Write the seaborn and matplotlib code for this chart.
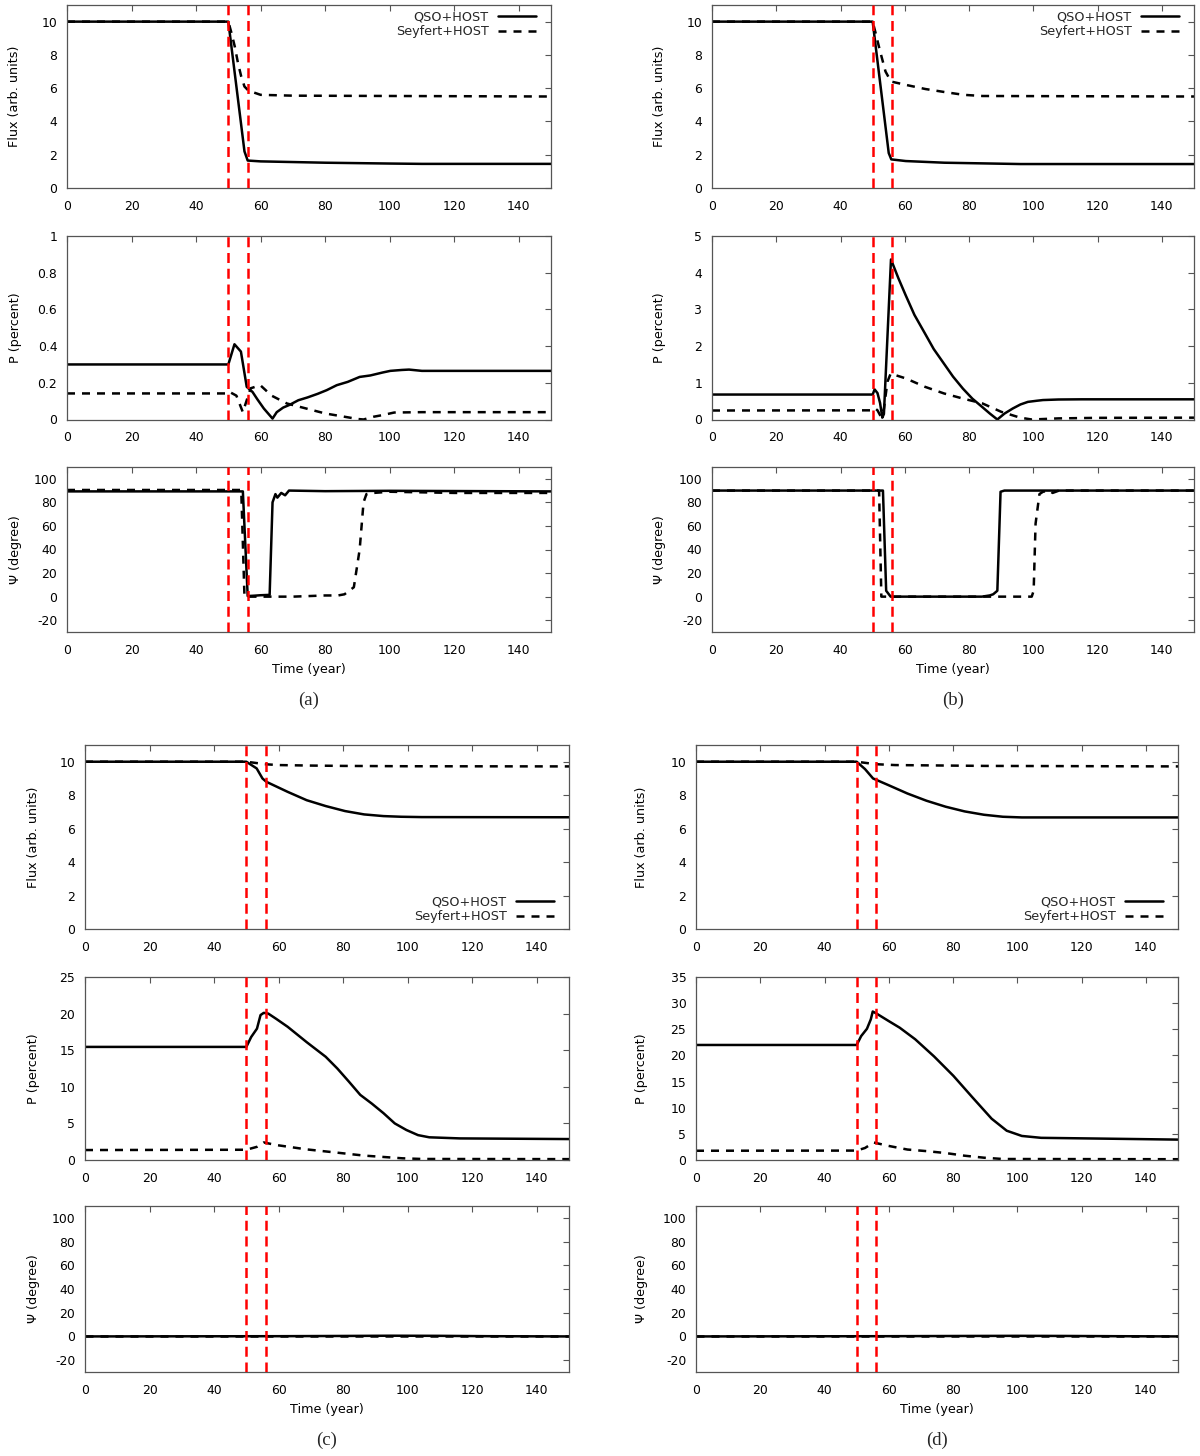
import matplotlib
matplotlib.use("Agg")
import matplotlib.pyplot as plt
import seaborn as sns

# ---------------- data ----------------
event_times = [50, 56]
x_ticks = [0, 20, 40, 60, 80, 100, 120, 140]
flux_ticks = [0, 2, 4, 6, 8, 10]
psi_ticks = [-20, 0, 20, 40, 60, 80, 100]
p_ticks_a = [0, 0.2, 0.4, 0.6, 0.8, 1.0]
p_ticklabels_a = ["0", "0.2", "0.4", "0.6", "0.8", "1"]
p_ticks_b = [0, 1, 2, 3, 4, 5]
p_ticks_c = [0, 5, 10, 15, 20, 25]
p_ticks_d = [0, 5, 10, 15, 20, 25, 30, 35]
series_labels = ["QSO+HOST", "Seyfert+HOST"]
panel_letters = ["(a)", "(b)", "(c)", "(d)"]

# panel (a)
a_flux_qso_t = [0, 50, 55, 56, 60, 80, 100, 110, 150]
a_flux_qso = [10, 10, 2.2, 1.65, 1.6, 1.52, 1.47, 1.45, 1.45]
a_flux_sey_t = [0, 50, 51, 52, 53, 54, 55, 56, 57, 60, 70, 150]
a_flux_sey = [10, 10, 9.3, 8.5, 7.5, 6.7, 6.1, 5.9, 5.8, 5.6, 5.55, 5.5]
a_p_qso_t = [0, 50, 51.9, 53.9, 55.7, 57.5, 59, 61, 63.7, 65, 67, 69, 71.7, 74.5, 77.7,
             80.5, 83.6, 87, 90.7, 94, 97.8, 100.2, 103.8, 106, 110, 150]
a_p_qso = [0.30, 0.30, 0.41, 0.37, 0.178, 0.15, 0.11, 0.06, 0.005, 0.04, 0.065, 0.08, 0.105,
           0.12, 0.14, 0.16, 0.187, 0.205, 0.232, 0.24, 0.256, 0.265, 0.27, 0.272, 0.265, 0.265]
a_p_sey_t = [0, 50, 50.4, 52.5, 54.5, 55.7, 56.9, 59.9, 63.4, 68.2, 74.1, 80, 86, 90, 91.9,
             95, 97.8, 101.4, 110, 150]
a_p_sey = [0.142, 0.142, 0.15, 0.13, 0.04, 0.105, 0.17, 0.187, 0.13, 0.087, 0.06, 0.033,
           0.015, 0.003, 0.0, 0.015, 0.024, 0.038, 0.04, 0.04]
a_psi_qso_t = [0, 54.5, 56, 58, 60, 62.8, 63.7, 64.6, 65.2, 66.4, 67.6, 68.8, 80, 100, 150]
a_psi_qso = [89.3, 89.3, 0.5, 0.8, 1.2, 1.5, 80, 87, 84, 88, 86, 90, 89.5, 89.8, 89.3]
a_psi_sey_t = [0, 54, 55, 70, 80, 84, 86, 88.9, 90.7, 91.9, 92.8, 95, 100, 120, 150]
a_psi_sey = [90.5, 90.5, 0, 0, 1, 1, 2, 8, 40, 80, 87, 88, 89, 88, 88]

# panel (b)
b_flux_qso_t = [0, 50, 55, 55.8, 60.3, 72.3, 84.2, 96, 150]
b_flux_qso = [10, 10, 2.1, 1.72, 1.62, 1.52, 1.48, 1.44, 1.44]
b_flux_sey_t = [0, 50, 50.8, 52.2, 54, 55.7, 60.3, 66.4, 72.3, 78.3, 84.2, 150]
b_flux_sey = [10, 10, 9.4, 8.3, 7.0, 6.4, 6.2, 5.95, 5.77, 5.6, 5.53, 5.5]
b_p_qso_t = [0, 50, 50.6, 51.5, 52.3, 53.0, 53.5, 55.7, 58, 60.3, 63, 66.3, 69, 72.2, 75,
             78.1, 81, 84.1, 86.5, 88.8, 91, 93.6, 96, 98.3, 101, 103, 107.8, 115, 150]
b_p_qso = [0.68, 0.68, 0.82, 0.72, 0.45, 0.05, 0.15, 4.36, 3.85, 3.38, 2.85, 2.34, 1.92,
           1.52, 1.17, 0.84, 0.57, 0.34, 0.16, 0.0, 0.16, 0.3, 0.41, 0.48, 0.51, 0.53,
           0.545, 0.55, 0.55]
b_p_sey_t = [0, 50, 50.8, 51.5, 52.6, 53.5, 54.6, 55.6, 60.3, 66.3, 72.2, 78.1, 84.1, 90,
             95.9, 99.5, 107.8, 119.7, 150]
b_p_sey = [0.245, 0.25, 0.3, 0.25, 0.07, 0.3, 1.03, 1.25, 1.12, 0.89, 0.71, 0.57, 0.44,
           0.21, 0.05, 0.0, 0.03, 0.045, 0.05]
b_psi_qso_t = [0, 53.2, 54.2, 55.6, 70, 84, 86.4, 87.5, 88.8, 89.8, 91, 150]
b_psi_qso = [90, 90, 5, 0, 0, 0, 1, 2, 5, 89, 90, 90]
b_psi_sey_t = [0, 52, 52.7, 99.5, 100.1, 100.7, 101.9, 103, 105, 106, 108, 150]
b_psi_sey = [90, 90, 0, 0, 5, 62, 87, 89, 90, 88, 90, 90]

# panel (c)
c_flux_qso_t = [0, 50, 53.2, 55, 56.2, 62.8, 68.7, 74.6, 80.6, 86.5, 92.5, 98, 104.4, 150]
c_flux_qso = [10, 10, 9.6, 9.0, 8.8, 8.2, 7.7, 7.35, 7.05, 6.85, 6.75, 6.71, 6.69, 6.68]
c_flux_sey_t = [0, 50, 52, 54, 55, 60, 70, 80, 100, 150]
c_flux_sey = [10, 10, 9.95, 9.9, 9.86, 9.8, 9.77, 9.75, 9.73, 9.72]
c_p_qso_t = [0, 50, 51.5, 53.3, 54.4, 55.4, 56.8, 59.2, 62.8, 68.7, 74.6, 78.2, 81.8, 85.3,
             88.9, 92.5, 96, 99.6, 103.2, 106.7, 116.2, 150]
c_p_qso = [15.45, 15.45, 16.8, 17.95, 19.8, 20.1, 20.0, 19.3, 18.2, 16.1, 14.1, 12.5, 10.7,
           8.9, 7.7, 6.4, 5.0, 4.1, 3.4, 3.1, 2.95, 2.86]
c_p_sey_t = [0, 50, 53.3, 55.4, 59.2, 68.7, 78.2, 86.5, 98.4, 104.4, 150]
c_p_sey = [1.36, 1.4, 1.8, 2.4, 2.05, 1.45, 1.0, 0.6, 0.23, 0.14, 0.12]
c_psi_qso_t = [0, 60, 80, 95, 110, 125, 150]
c_psi_qso = [0, 0.2, 0.4, 0.6, 0.5, 0.2, 0]
c_psi_sey_t = [0, 150]
c_psi_sey = [0, 0]

# panel (d)
d_flux_qso_t = [0, 50, 52.6, 55.1, 59.9, 65.8, 71.7, 77.7, 83.6, 89.6, 95.5, 101.4, 150]
d_flux_qso = [10, 10, 9.56, 9.0, 8.6, 8.1, 7.67, 7.31, 7.03, 6.83, 6.71, 6.67, 6.67]
d_flux_sey_t = [0, 50, 52, 54, 55, 62, 90, 150]
d_flux_sey = [10, 10, 9.95, 9.9, 9.86, 9.8, 9.75, 9.72]
d_p_qso_t = [0, 50, 51.4, 53.2, 54.4, 55.0, 56.2, 59.9, 63.4, 68.2, 74.1, 80.1, 86, 92,
             96.7, 101.4, 107.4, 125.2, 150]
d_p_qso = [22.0, 22.0, 23.7, 25.1, 26.9, 28.4, 28.0, 26.6, 25.3, 23.1, 19.8, 16.1, 12.0,
           7.9, 5.6, 4.6, 4.24, 4.1, 3.9]
d_p_sey_t = [0, 50, 52.6, 55.3, 59.9, 65.8, 71.7, 77.7, 83.6, 89.6, 95.5, 150]
d_p_sey = [1.77, 1.8, 2.3, 3.35, 2.7, 2.0, 1.7, 1.33, 0.82, 0.44, 0.19, 0.15]
d_psi_qso_t = [0, 60, 85, 100, 115, 130, 150]
d_psi_qso = [0, 0.2, 0.4, 0.5, 0.4, 0.2, 0]
d_psi_sey_t = [0, 150]
d_psi_sey = [0, 0]

# ---------------- style ----------------
sns.set_theme(style="white")
plt.rcParams["font.family"] = ["DejaVu Sans"]
plt.rcParams["axes.unicode_minus"] = False

W, H = 1200, 1456
FS = 9.2       # labels / legend
TFS = 8.9      # tick labels
LW = 1.8
FRAME = "#555555"
DASH = (0, (3.2, 2.8))
RED_DASH = (0, (4, 2.3))

fig = plt.figure(figsize=(W / 100, H / 100), dpi=100)

cols = {
    "a": (67, 551, 15, "top"),
    "b": (712, 1194, 660, "top"),
    "c": (85, 569, 33, "bottom"),
    "d": (696, 1178, 641.5, "bottom"),
}
rows = {
    "top": [(5, 188), (236, 419.5), (467, 632)],
    "bottom": [(745, 929), (977, 1160), (1206, 1372)],
}

panels = {
    "a": dict(flux=(a_flux_qso_t, a_flux_qso, a_flux_sey_t, a_flux_sey),
              p=(a_p_qso_t, a_p_qso, a_p_sey_t, a_p_sey),
              psi=(a_psi_qso_t, a_psi_qso, a_psi_sey_t, a_psi_sey),
              pticks=p_ticks_a, plabels=p_ticklabels_a, legend="upper"),
    "b": dict(flux=(b_flux_qso_t, b_flux_qso, b_flux_sey_t, b_flux_sey),
              p=(b_p_qso_t, b_p_qso, b_p_sey_t, b_p_sey),
              psi=(b_psi_qso_t, b_psi_qso, b_psi_sey_t, b_psi_sey),
              pticks=p_ticks_b, plabels=None, legend="upper"),
    "c": dict(flux=(c_flux_qso_t, c_flux_qso, c_flux_sey_t, c_flux_sey),
              p=(c_p_qso_t, c_p_qso, c_p_sey_t, c_p_sey),
              psi=(c_psi_qso_t, c_psi_qso, c_psi_sey_t, c_psi_sey),
              pticks=p_ticks_c, plabels=None, legend="lower"),
    "d": dict(flux=(d_flux_qso_t, d_flux_qso, d_flux_sey_t, d_flux_sey),
              p=(d_p_qso_t, d_p_qso, d_p_sey_t, d_p_sey),
              psi=(d_psi_qso_t, d_psi_qso, d_psi_sey_t, d_psi_sey),
              pticks=p_ticks_d, plabels=None, legend="lower"),
}


def make_ax(left, right, top, bottom):
    return fig.add_axes([left / W, 1 - bottom / H, (right - left) / W, (bottom - top) / H])


def style_ax(ax):
    for s in ax.spines.values():
        s.set_color(FRAME)
        s.set_linewidth(0.9)
        s.set_visible(True)
    ax.tick_params(direction="in", top=True, right=True, length=4.3, width=0.8,
                   color=FRAME, labelcolor="black", labelsize=TFS)
    ax.tick_params(axis="x", pad=8.5)
    ax.tick_params(axis="y", pad=7)
    ax.set_xlim(0, 150)
    ax.set_xticks(x_ticks)
    ax.set_xticklabels([str(v) for v in x_ticks])
    ax.grid(False)
    ax.set_facecolor("white")


def draw_series(ax, data, with_labels):
    tq, yq, ts, ys = data
    sns.lineplot(x=tq, y=yq, ax=ax, color="black", linewidth=LW, estimator=None,
                 sort=False, legend=False,
                 label=series_labels[0] if with_labels else None)
    sns.lineplot(x=ts, y=ys, ax=ax, color="black", linewidth=LW, linestyle=DASH,
                 estimator=None, sort=False, legend=False,
                 label=series_labels[1] if with_labels else None)
    for et in event_times:
        ax.axvline(et, color="#ff0000", linewidth=LW, linestyle=RED_DASH, zorder=5)


for i, key in enumerate(["a", "b", "c", "d"]):
    left, right, ylab_x, rowkey = cols[key]
    pdat = panels[key]
    width = right - left
    (ft, fb), (pt, pb), (st, sb) = rows[rowkey]

    # flux
    ax = make_ax(left, right, ft, fb)
    draw_series(ax, pdat["flux"], True)
    style_ax(ax)
    ax.set_ylim(0, 11)
    ax.set_yticks(flux_ticks)
    ax.set_yticklabels([str(v) for v in flux_ticks])
    ax.set_ylabel("Flux (arb. units)", fontsize=FS, color="black")
    ax.yaxis.set_label_coords((ylab_x + 6.5 - left) / width, 0.5)
    ax.set_xlabel("")
    hpx = fb - ft
    handle_end = (right - 15 - left) / width
    common = dict(frameon=False, fontsize=FS, markerfirst=False, handlelength=3.0,
                  handletextpad=0.7, labelspacing=0.12, borderpad=0, borderaxespad=0)
    if pdat["legend"] == "upper":
        ax.legend(loc="upper right", bbox_to_anchor=(handle_end, 1 - 5.5 / hpx), **common)
    else:
        ax.legend(loc="lower right", bbox_to_anchor=(handle_end, 6.0 / hpx), **common)

    # polarization degree
    ax = make_ax(left, right, pt, pb)
    draw_series(ax, pdat["p"], False)
    style_ax(ax)
    ticks = pdat["pticks"]
    ax.set_ylim(ticks[0], ticks[-1])
    ax.set_yticks(ticks)
    ax.set_yticklabels(pdat["plabels"] if pdat["plabels"] else [str(v) for v in ticks])
    ax.set_ylabel("P (percent)", fontsize=FS, color="black")
    ax.yaxis.set_label_coords((ylab_x + 6.5 - left) / width, 0.5)
    ax.set_xlabel("")

    # polarization angle
    ax = make_ax(left, right, st, sb)
    draw_series(ax, pdat["psi"], False)
    style_ax(ax)
    ax.set_ylim(-30, 110)
    ax.set_yticks(psi_ticks)
    ax.set_yticklabels([str(v) for v in psi_ticks])
    ax.set_ylabel("\u03a8 (degree)", fontsize=FS, color="black")
    ax.yaxis.set_label_coords((ylab_x + 6.5 - left) / width, 0.5)
    ax.set_xlabel("Time (year)", fontsize=FS, color="black")
    ax.xaxis.set_label_coords(0.5, -(31) / (sb - st))

    # panel letter
    fig.text((left + right) / 2 / W, 1 - (sb + 68) / H, panel_letters[i],
             ha="center", va="center", fontsize=13.5,
             family=["Liberation Serif", "DejaVu Serif"])

fig.savefig("out.png", dpi=100, facecolor="white")
